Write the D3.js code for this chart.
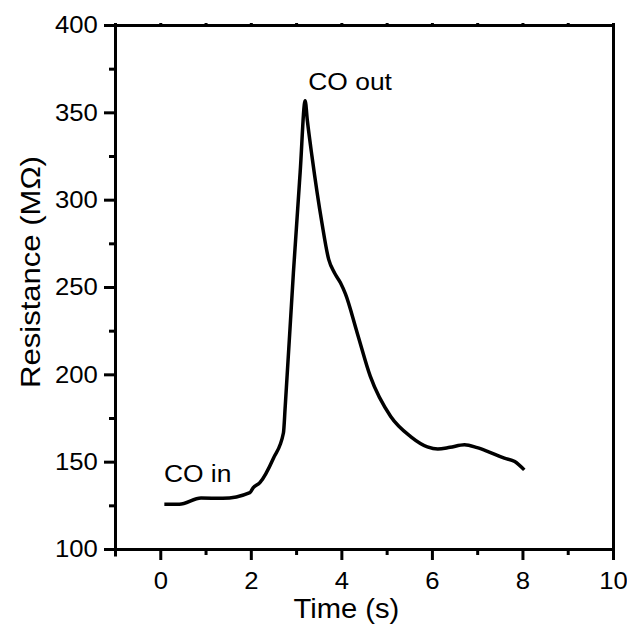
<!DOCTYPE html>
<html>
<head>
<meta charset="utf-8">
<script src="https://cdn.jsdelivr.net/npm/d3@7"></script>
<style>
  body { margin: 0; background: #fff; }
  svg { display: block; font-family: "Liberation Sans", Arial, sans-serif; }
  .axis path, .axis line { stroke: #000; stroke-width: 3; }
  .axis text { font-size: 24px; fill: #000; }
</style>
</head>
<body>
<svg id="svg" width="627" height="625"></svg>
<script>
// resistance trace
const time = [0.09, 0.42, 0.9, 1.38, 1.98, 2.05, 2.2, 2.5, 2.72, 2.76, 2.94, 3.09, 3.2, 3.25,
  3.35, 3.57, 3.72, 3.85, 3.98, 4.09, 4.35, 4.64, 5.09, 5.53, 5.9, 6.13, 6.4, 6.72, 7.0,
  7.24, 7.6, 7.83, 8.04];
const resistance = [125.6, 125.6, 129.2, 129, 132.3, 135, 138, 152, 166.4, 181.6, 258, 315.7,
  356.6, 345, 325, 286.8, 265.8, 258, 252.4, 246, 223.7, 198.8, 175.9, 164.4, 158.5, 157.2,
  158.2, 159.7, 158, 155.8, 152, 150.1, 145.3];

const xMajor = [0, 2, 4, 6, 8, 10];
const xMinor = [-1, 1, 3, 5, 7, 9];
const yMajor = [100, 150, 200, 250, 300, 350, 400];
const yMinor = [125, 175, 225, 275, 325, 375];

const notes = [
  { text: "CO in", t: 0.08, v: 138.4 },
  { text: "CO out", t: 3.27, v: 362.8 }
];

const svg = d3.select("#svg");
const m = { left: 115, right: 613, top: 25, bottom: 549 };

const x = d3.scaleLinear().domain([-1, 10]).range([m.left, m.right]);
const y = d3.scaleLinear().domain([100, 400]).range([m.bottom, m.top]);

// minor ticks first (no labels)
svg.append("g").attr("class", "axis").attr("transform", `translate(0,${m.bottom})`)
  .call(d3.axisBottom(x).tickValues(xMinor).tickSize(6).tickFormat(""));
svg.append("g").attr("class", "axis").attr("transform", `translate(${m.left},0)`)
  .call(d3.axisLeft(y).tickValues(yMinor).tickSize(6).tickFormat(""));

// top / right mirror with tiny ticks
svg.append("g").attr("class", "axis").attr("transform", `translate(0,${m.top})`)
  .call(d3.axisTop(x).tickValues(xMajor.concat(xMinor)).tickSize(2).tickSizeOuter(0).tickFormat(""));
svg.append("g").attr("class", "axis").attr("transform", `translate(${m.right},0)`)
  .call(d3.axisRight(y).tickValues(yMajor.concat(yMinor)).tickSize(2).tickSizeOuter(0).tickFormat(""));

svg.append("g").attr("class", "axis").attr("transform", `translate(0,${m.bottom})`)
  .call(d3.axisBottom(x).tickValues(xMajor).tickSize(11).tickSizeOuter(0).tickPadding(12));
svg.append("g").attr("class", "axis").attr("transform", `translate(${m.left},0)`)
  .call(d3.axisLeft(y).tickValues(yMajor).tickSize(11).tickSizeOuter(0).tickPadding(5));

// original type is a bit wide
svg.selectAll(".axis text").attr("transform", "scale(1.07,1)");
svg.selectAll(".axis path.domain").attr("stroke-linecap", "square");

const pts = time.map((t, i) => [t, resistance[i]]);
svg.append("path")
  .datum(pts)
  .attr("fill", "none")
  .attr("stroke", "#000")
  .attr("stroke-width", 3.5)
  .attr("stroke-linejoin", "round")
  .attr("d", d3.line().x(d => x(d[0])).y(d => y(d[1])).curve(d3.curveMonotoneX));

svg.selectAll(".note").data(notes).enter().append("text")
  .attr("class", "note")
  .attr("transform", d => `translate(${x(d.t)},${y(d.v)}) scale(1.1,1)`)
  .attr("font-size", 24)
  .text(d => d.text);

svg.append("text")
  .attr("transform", `translate(${x(4) + 5},618) scale(1.08,1)`)
  .attr("text-anchor", "middle")
  .attr("font-size", 27)
  .text("Time (s)");

svg.append("text")
  .attr("transform", `translate(40,272) rotate(-90) scale(1.15,1)`)
  .attr("text-anchor", "middle")
  .attr("font-size", 27)
  .text("Resistance (MΩ)");
</script>
</body>
</html>
